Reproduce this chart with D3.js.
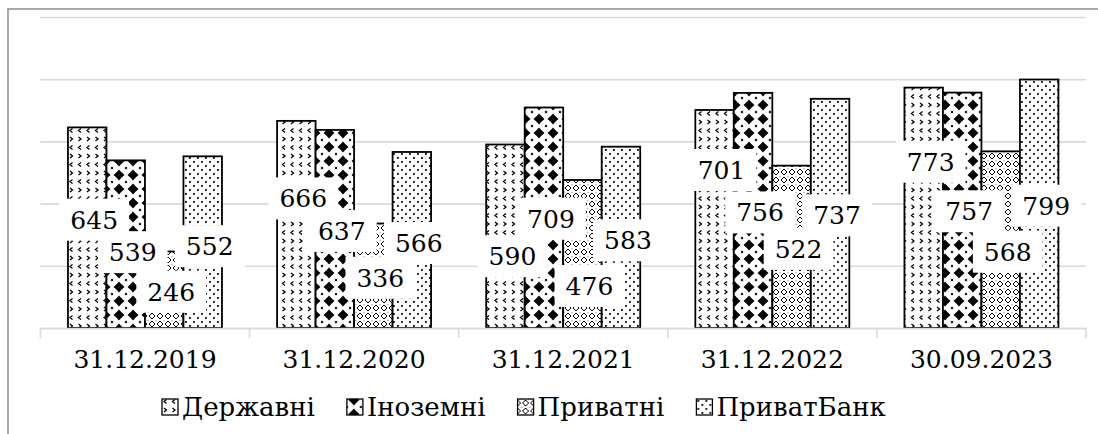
<!DOCTYPE html>
<html>
<head>
<meta charset="utf-8">
<script src="https://cdn.jsdelivr.net/npm/d3@7"></script>
<style>
  body { margin: 0; background: #fff; }
</style>
</head>
<body>
<script>
const categories = ["31.12.2019", "31.12.2020", "31.12.2021", "31.12.2022", "30.09.2023"];
const seriesNames = ["Державні", "Іноземні", "Приватні", "ПриватБанк"];
const derzhavni = [645, 666, 590, 701, 773];
const inozemni = [539, 637, 709, 756, 757];
const pryvatni = [246, 336, 476, 522, 568];
const pryvatBank = [552, 566, 583, 737, 799];
const yTicks = [0, 200, 400, 600, 800, 1000];

// labels were dragged around by hand in the original, these are the vertical nudges (px)
const nudgeDerzhavni = [-10, -28, 18, -51, -48];
const nudgeInozemni = [6, 0, -1, 0, -1];
const nudgePryvatni = [0, 0, 30, 0, 10];
const nudgePryvatBank = [2, 1, 1, 0, 0];

const seriesValues = [derzhavni, inozemni, pryvatni, pryvatBank];
const seriesNudges = [nudgeDerzhavni, nudgeInozemni, nudgePryvatni, nudgePryvatBank];
const patternIds = ["pat-d", "pat-i", "pat-p", "pat-b"];

// Times is not installed here, DejaVu Serif is the closest serif face
const serif = "'DejaVu Serif'";

const width = 1098, height = 434;
const margin = {top: 17, right: 12, bottom: 106, left: 40.4};

const svg = d3.select("body").append("svg")
  .attr("width", width)
  .attr("height", height);

// ---- fill patterns (black & white, like the Excel ones)
const defs = svg.append("defs");

const pd = defs.append("pattern").attr("id", "pat-d")
  .attr("patternUnits", "userSpaceOnUse").attr("width", 17).attr("height", 17);
pd.append("rect").attr("width", 17).attr("height", 17).attr("fill", "#fff");
pd.append("path")
  .attr("d", "M2,1 L4.5,3 L2,5 M13,9.5 L10.5,11.5 L13,13.5 M10.5,1 L13,3 L10.5,5 M4.5,9.5 L2,11.5 L4.5,13.5")
  .attr("fill", "none").attr("stroke", "#000").attr("stroke-width", 1.3);

const pi = defs.append("pattern").attr("id", "pat-i")
  .attr("patternUnits", "userSpaceOnUse").attr("width", 14).attr("height", 14);
pi.append("rect").attr("width", 14).attr("height", 14).attr("fill", "#fff");
pi.append("path")
  .attr("d", "M7,1.5 Q9.5,4.5 12.5,7 Q9.5,9.5 7,12.5 Q4.5,9.5 1.5,7 Q4.5,4.5 7,1.5 Z")
  .attr("fill", "#000");
pi.append("path")
  .attr("d", "M0,0 L1.5,0 L0,1.5 Z M14,0 L12.5,0 L14,1.5 Z M0,14 L1.5,14 L0,12.5 Z M14,14 L12.5,14 L14,12.5 Z")
  .attr("fill", "#000");

const pp = defs.append("pattern").attr("id", "pat-p")
  .attr("patternUnits", "userSpaceOnUse").attr("width", 8).attr("height", 8);
pp.append("rect").attr("width", 8).attr("height", 8).attr("fill", "#fff");
pp.append("path")
  .attr("d", "M0,1 L3,4 L0,7 M8,1 L5,4 L8,7 M4,0 L4,0.5")
  .attr("fill", "none").attr("stroke", "#000").attr("stroke-width", 1);

const pb = defs.append("pattern").attr("id", "pat-b")
  .attr("patternUnits", "userSpaceOnUse").attr("width", 8).attr("height", 8);
pb.append("rect").attr("width", 8).attr("height", 8).attr("fill", "#fff");
pb.append("rect").attr("x", 1).attr("y", 1).attr("width", 1.8).attr("height", 1.8).attr("fill", "#000");
pb.append("rect").attr("x", 5).attr("y", 5).attr("width", 1.8).attr("height", 1.8).attr("fill", "#000");

// ---- scales
const x0 = d3.scaleBand()
  .domain(categories)
  .range([margin.left, width - margin.right])
  .padding(0);

const barW = 38.5;
const groupW = barW * seriesNames.length;
const x1 = d3.scaleBand()
  .domain(seriesNames)
  .range([(x0.bandwidth() - groupW) / 2, (x0.bandwidth() + groupW) / 2])
  .padding(0);

const y = d3.scaleLinear()
  .domain([0, 1000])
  .range([height - margin.bottom, margin.top]);

// outer frame (only top and left edges are visible in the crop)
svg.append("path")
  .attr("d", `M8,${height} L8,9 L${width},9`)
  .attr("fill", "none").attr("stroke", "#8c8c8c").attr("stroke-width", 1.5);

// gridlines
svg.append("g")
  .attr("transform", `translate(${margin.left},0)`)
  .call(d3.axisLeft(y).tickValues(yTicks).tickSize(-(width - margin.right - margin.left)).tickFormat(""))
  .call(g => g.select(".domain").remove())
  .call(g => g.selectAll(".tick line").attr("stroke", "#d9d9d9").attr("stroke-width", 1.6));

// bars
const data = [];
categories.forEach((c, ci) => {
  seriesNames.forEach((s, si) => {
    data.push({cat: c, series: s, si: si, value: seriesValues[si][ci], nudge: seriesNudges[si][ci]});
  });
});

svg.append("g")
  .selectAll("rect")
  .data(data)
  .join("rect")
    .attr("x", d => x0(d.cat) + x1(d.series))
    .attr("y", d => y(d.value))
    .attr("width", x1.bandwidth())
    .attr("height", d => y(0) - y(d.value))
    .attr("fill", d => `url(#${patternIds[d.si]})`)
    .attr("stroke", "#000")
    .attr("stroke-width", 1.8);

// x axis
const xAxis = svg.append("g")
  .attr("transform", `translate(0,${y(0)})`)
  .call(d3.axisBottom(x0).tickSize(0).tickPadding(22));
xAxis.select(".domain").attr("stroke", "#d9d9d9").attr("stroke-width", 1.6);
xAxis.selectAll(".tick text")
  .style("font-family", serif)
  .attr("font-size", 25)
  .attr("fill", "#000");
xAxis.selectAll(".sep")
  .data(categories.concat(["end"]))
  .join("line")
    .attr("class", "sep")
    .attr("x1", (d, i) => i < categories.length ? x0(d) : x0(categories[categories.length - 1]) + x0.bandwidth())
    .attr("x2", (d, i) => i < categories.length ? x0(d) : x0(categories[categories.length - 1]) + x0.bandwidth())
    .attr("y1", 0).attr("y2", 10)
    .attr("stroke", "#d9d9d9").attr("stroke-width", 1.6);

// data labels with white boxes, drawn series by series so later ones sit on top
const labels = svg.append("g");
seriesNames.forEach((s, si) => {
  data.filter(d => d.si === si).forEach(d => {
    const cx = x0(d.cat) + x1(d.series) + x1.bandwidth() / 2 + 7;
    const cy = (y(d.value) + y(0)) / 2 + 2 + d.nudge;
    const g = labels.append("g");
    const box = g.append("rect").attr("fill", "#fff");
    const t = g.append("text")
      .attr("x", cx).attr("y", cy).attr("dy", "0.36em")
      .attr("text-anchor", "middle")
      .style("font-family", serif)
      .attr("font-size", 25)
      .text(d.value);
    const w = t.node().getComputedTextLength();
    box.attr("x", cx - w / 2 - 11).attr("y", cy - 21)
      .attr("width", w + 22).attr("height", 42);
  });
});

// legend
const legend = svg.append("g").attr("transform", "translate(162,407)");
let lx = 0;
seriesNames.forEach((s, si) => {
  const item = legend.append("g").attr("transform", `translate(${lx},0)`);
  item.append("rect")
    .attr("x", 0).attr("y", -8).attr("width", 16).attr("height", 16)
    .attr("fill", `url(#${patternIds[si]})`)
    .attr("stroke", "#000").attr("stroke-width", 1.3);
  const t = item.append("text")
    .attr("x", 20).attr("dy", "0.36em")
    .style("font-family", serif)
    .attr("font-size", 26)
    .text(s);
  lx += 20 + t.node().getComputedTextLength() + 32;
});
</script>
</body>
</html>
